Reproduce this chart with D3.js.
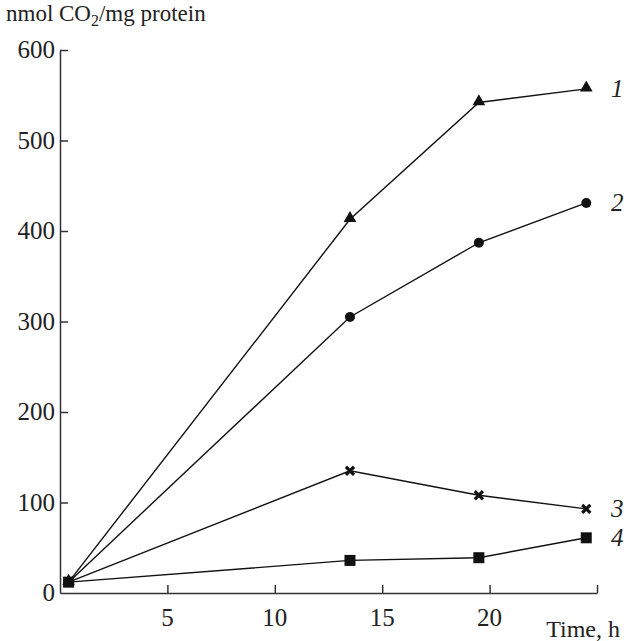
<!DOCTYPE html>
<html>
<head>
<meta charset="utf-8">
<script src="https://cdn.jsdelivr.net/npm/d3@7"></script>
<style>
  body { margin: 0; background: #fff; }
  svg text { font-family: "Liberation Serif", "DejaVu Serif", serif; fill: #222; }
</style>
</head>
<body>
<div id="chart"></div>
<script>
// time points (h)
const times = [0.4, 13.5, 19.5, 24.5];
const series1 = [12, 413, 542, 557];
const series2 = [12, 305, 387, 431];
const series3 = [12, 135, 108, 93];
const series4 = [12, 36, 39, 61];
const seriesLabels = ["1", "2", "3", "4"];
const markers = ["triangle", "circle", "cross", "square"];
const xTicks = [5, 10, 15, 20, 25];
const yTicks = [0, 100, 200, 300, 400, 500, 600];

const width = 627, height = 641;
const margin = { top: 50, right: 30, bottom: 48, left: 60 };

const svg = d3.select("#chart").append("svg")
  .attr("width", width)
  .attr("height", height);

const x = d3.scaleLinear().domain([0, 25]).range([margin.left, width - margin.right]);
const y = d3.scaleLinear().domain([0, 600]).range([height - margin.bottom, margin.top]);

// axes, ticks pointing inward
svg.append("g")
  .attr("transform", `translate(0,${y(0)})`)
  .call(d3.axisTop(x).tickValues(xTicks).tickSize(8).tickSizeOuter(0).tickFormat(""));
svg.append("g")
  .attr("transform", `translate(${x(0)},0)`)
  .call(d3.axisRight(y).tickValues(yTicks.filter(d => d > 0)).tickSize(8).tickSizeOuter(0).tickFormat(""));
svg.selectAll(".domain, .tick line").attr("stroke", "#333").attr("stroke-width", 1.5);

// tick labels
svg.selectAll(".xlab").data(xTicks.filter(d => d < 25)).enter().append("text")
  .attr("x", d => x(d)).attr("y", y(0) + 33)
  .attr("text-anchor", "middle").attr("font-size", 25)
  .text(d => d);
svg.selectAll(".ylab").data(yTicks).enter().append("text")
  .attr("x", x(0) - 5).attr("y", d => y(d) + 8)
  .attr("text-anchor", "end").attr("font-size", 25)
  .text(d => d);

// axis titles
const title = svg.append("text").attr("x", 6).attr("y", 21).attr("font-size", 23);
title.append("tspan").text("nmol CO");
title.append("tspan").attr("font-size", 16).attr("dy", 5).text("2");
title.append("tspan").attr("dy", -5).text("/mg protein");
svg.append("text").attr("x", 620).attr("y", 637).attr("text-anchor", "end")
  .attr("font-size", 24).text("Time, h");

const allSeries = [series1, series2, series3, series4];
const line = d3.line().x((d, i) => x(times[i])).y(d => y(d));

allSeries.forEach((vals, k) => {
  svg.append("path").datum(vals)
    .attr("d", line)
    .attr("fill", "none").attr("stroke", "#111").attr("stroke-width", 1.4);

  const g = svg.append("g");
  vals.forEach((v, i) => {
    const cx = x(times[i]), cy = y(v);
    if (markers[k] === "triangle") {
      g.append("path").attr("d", d3.symbol(d3.symbolTriangle, 70)())
        .attr("transform", `translate(${cx},${cy - 1})`).attr("fill", "#111");
    } else if (markers[k] === "circle") {
      g.append("circle").attr("cx", cx).attr("cy", cy).attr("r", 5).attr("fill", "#111");
    } else if (markers[k] === "square") {
      g.append("rect").attr("x", cx - 5.5).attr("y", cy - 5.5)
        .attr("width", 11).attr("height", 11).attr("fill", "#111");
    } else {
      g.append("path").attr("d", d3.symbol(d3.symbolX, 45)())
        .attr("transform", `translate(${cx},${cy})`)
        .attr("stroke", "#111").attr("stroke-width", 3.2);
    }
  });

  const last = vals[vals.length - 1];
  svg.append("text")
    .attr("x", 611).attr("y", y(last) + 8)
    .attr("font-size", 25).attr("font-style", "italic")
    .text(seriesLabels[k]);
});
</script>
</body>
</html>
